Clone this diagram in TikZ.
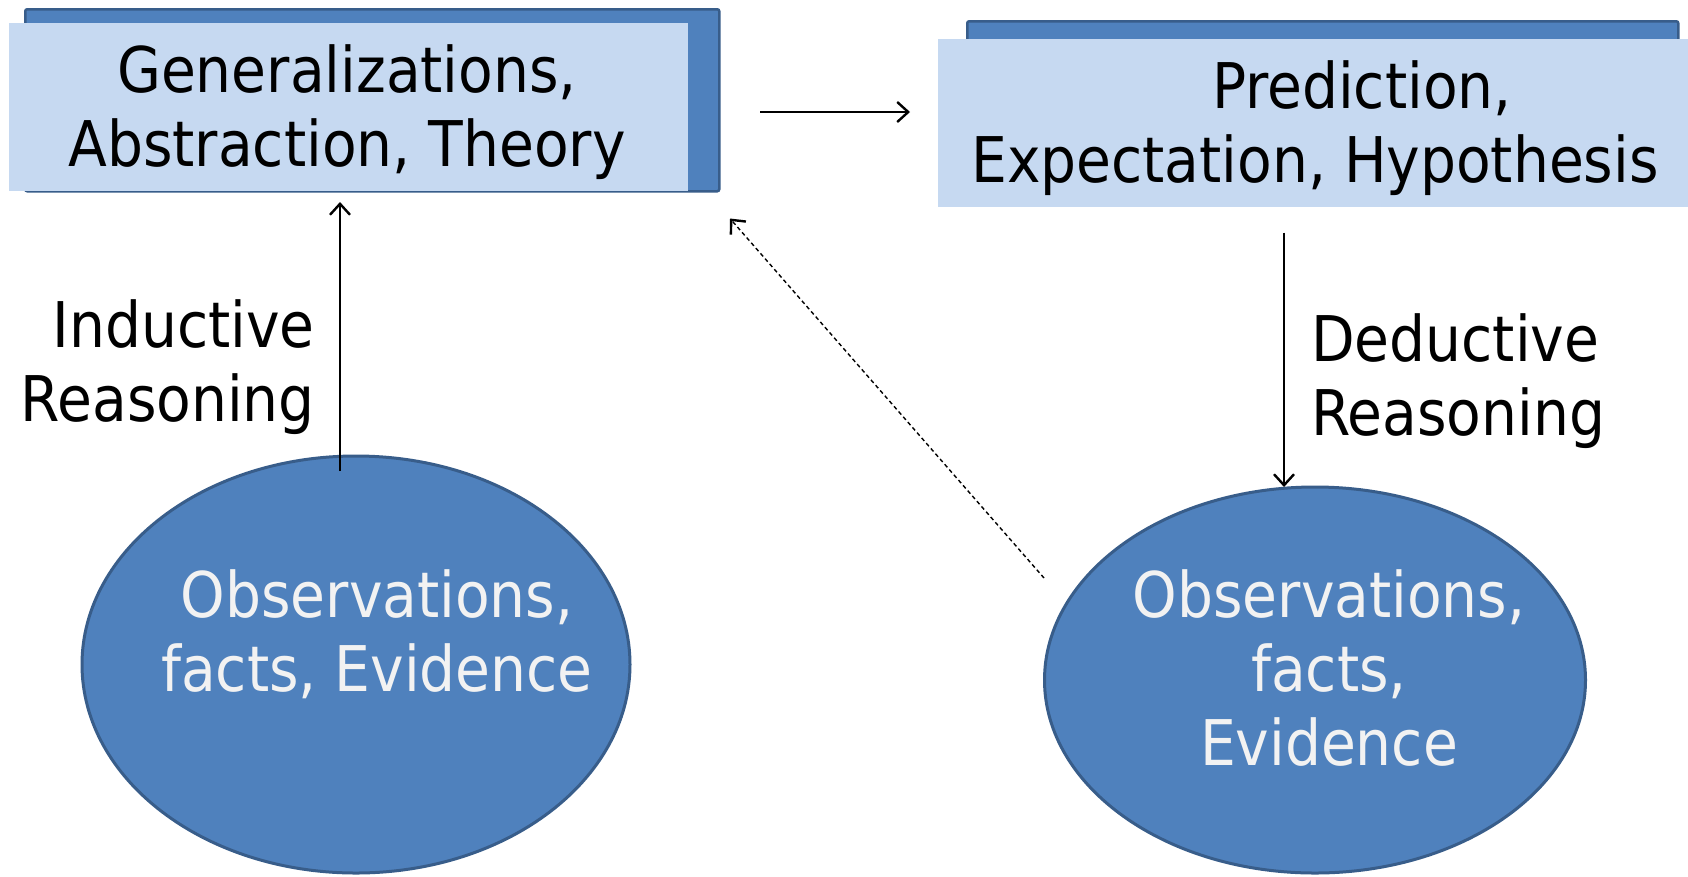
\documentclass[tikz,border=0pt]{standalone}
\usepackage{fontspec}
\setmainfont{DejaVu Sans Condensed}
\usetikzlibrary{shapes.geometric,arrows.meta}
\definecolor{boxdark}{HTML}{4F81BD}
\definecolor{boxedge}{HTML}{385D8A}
\definecolor{boxlight}{HTML}{C6D9F1}
\definecolor{obstxt}{HTML}{F2F2F2}
\tikzset{
  darkbox/.style={draw=boxedge, fill=boxdark, line width=2.5pt, rounded corners=2pt, anchor=north west, inner sep=0pt},
  lightbox/.style={fill=boxlight, draw=none, anchor=north west, inner sep=0pt},
  obs/.style={ellipse, draw=boxedge, fill=boxdark, line width=3pt, inner sep=0pt},
  bigtext/.style={font=\fontsize{63}{74}\selectfont, inner sep=0pt},
  arr/.style={line width=1.6pt, -{Straight Barb[length=11pt,width=20pt,line width=2.4pt]}},
  dasharr/.style={line width=1.4pt, dash pattern=on 4pt off 3pt, -{Straight Barb[length=11pt,width=20pt,line width=2.4pt]}}
}
\begin{document}
\begin{tikzpicture}[x=1pt,y=-1pt]
\useasboundingbox[fill=white] (0,0) rectangle (1688,876);
% top-left box
\node[darkbox, minimum width=694pt, minimum height=182pt] (gdark) at (24,8) {};
\node[lightbox, minimum width=679pt, minimum height=168pt] (gbox) at (9,22.7) {};
\node[bigtext, align=center, anchor=base] (gtext) at (347,166.7) {Generalizations,\\Abstraction, Theory};
% top-right box
\node[darkbox, minimum width=711pt, minimum height=170pt] (pdark) at (966,20) {};
\node[lightbox, minimum width=750pt, minimum height=168pt] (pbox) at (938,39) {};
\node[bigtext, align=center, anchor=base] (ptext) at (1315,182.7) {\hspace*{94pt}Prediction,\\Expectation, Hypothesis};
% ellipses
\node[obs, minimum width=548pt, minimum height=417pt] (lobs) at (356,664.5) {};
\node[bigtext, align=center, anchor=base, text=obstxt] (lobstext) at (377,691.7) {Observations,\\facts, Evidence};
\node[obs, minimum width=541pt, minimum height=386pt] (robs) at (1315,680) {};
\node[bigtext, align=center, anchor=base, text=obstxt] (robstext) at (1329,765) {Observations,\\facts,\\Evidence};
% labels
\node[bigtext, align=right, anchor=base east] (induct) at (315,421.7) {Inductive\\Reasoning};
\node[bigtext, align=left, anchor=base west] (deduct) at (1311,435) {Deductive\\Reasoning};
% connector ends
\coordinate (hA) at (760,112);
\coordinate (hB) at (910,112);
\coordinate (uA) at (340,471);
\coordinate (uB) at (340,202);
\coordinate (dA) at (1284,232.5);
\coordinate (dB) at (1284,487);
\coordinate (xA) at (1044,578);
\coordinate (xB) at (730,218.5);
\draw[arr] (hA) -- (hB);
\draw[arr] (uA) -- (uB);
\draw[arr] (dA) -- (dB);
\draw[dasharr] (xA) -- (xB);
\end{tikzpicture}
\end{document}
